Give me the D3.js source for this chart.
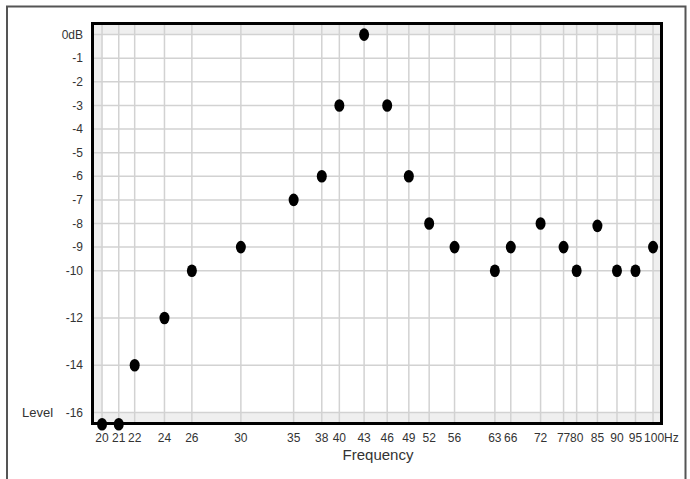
<!DOCTYPE html>
<html>
<head>
<meta charset="utf-8">
<script src="https://cdn.jsdelivr.net/npm/d3@7"></script>
<style>
  body { margin: 0; background: #fff; }
  text { font-family: "Liberation Sans", Arial, sans-serif; fill: #333; }
</style>
</head>
<body>
<div id="chart"></div>
<script>
//frequencies (Hz) and levels (dB)
var freqs  = [20, 21, 22, 24, 26, 30, 35, 38, 40, 43, 46, 49, 52, 56, 63, 66, 72, 77, 80, 85, 90, 95, 100];
var levels = [-16.5, -16.5, -14, -12, -10, -9, -7, -6, -3, 0, -3, -6, -8, -9, -10, -9, -8, -9, -10, -8.1, -10, -10, -9];

//tick labels
var xTickLabels = ["20","21","22","24","26","30","35","38","40","43","46","49","52","56","63","66","72","77","80","85","90","95","100Hz"];
var yTicks = [0, -1, -2, -3, -4, -5, -6, -7, -8, -9, -10, -12, -14, -16];
var yTickLabels = ["0dB","-1","-2","-3","-4","-5","-6","-7","-8","-9","-10","-12","-14","-16"];

var W = 690, H = 479;
var box = {left: 92.5, right: 661.5, top: 23.5, bottom: 423.5};

var svg = d3.select("#chart").append("svg")
  .attr("width", W)
  .attr("height", H);

//outer frame (no bottom edge visible)
svg.append("path")
  .attr("d", "M7,479 L7,6.5 L685.5,6.5 L685.5,479")
  .attr("fill", "none")
  .attr("stroke", "#555")
  .attr("stroke-width", 2);

var x = d3.scaleLog()
  .domain([19.45, 102.5])
  .range([box.left, box.right]);

var y = d3.scaleLinear()
  .domain([0.47, -16.47])
  .range([box.top, box.bottom]);

//grey band round the plot, white inside
svg.append("rect")
  .attr("x", box.left).attr("y", box.top)
  .attr("width", box.right - box.left).attr("height", box.bottom - box.top)
  .attr("fill", "#efefef");

svg.append("rect")
  .attr("x", x(20)).attr("y", y(0))
  .attr("width", x(100) - x(20)).attr("height", y(-16) - y(0))
  .attr("fill", "#fff");

//grid
svg.append("g").selectAll("line")
  .data(freqs)
  .join("line")
  .attr("x1", function(d){ return x(d); })
  .attr("x2", function(d){ return x(d); })
  .attr("y1", box.top)
  .attr("y2", box.bottom)
  .attr("stroke", "#d2d2d2")
  .attr("stroke-width", 1.5);

svg.append("g").selectAll("line")
  .data(yTicks)
  .join("line")
  .attr("x1", box.left)
  .attr("x2", box.right)
  .attr("y1", function(d){ return y(d); })
  .attr("y2", function(d){ return y(d); })
  .attr("stroke", "#d2d2d2")
  .attr("stroke-width", 1.5);

//y labels
svg.append("g").selectAll("text")
  .data(yTicks)
  .join("text")
  .attr("x", 83)
  .attr("y", function(d){ return y(d); })
  .attr("dy", "0.35em")
  .attr("text-anchor", "end")
  .attr("font-size", 12)
  .text(function(d, i){ return yTickLabels[i]; });

svg.append("text")
  .attr("x", 22)
  .attr("y", y(-16))
  .attr("dy", "0.35em")
  .attr("font-size", 13)
  .text("Level");

//x labels ("Hz" hangs off the last one)
svg.append("g").selectAll("text")
  .data(freqs)
  .join("text")
  .attr("x", function(d, i){ return i == freqs.length - 1 ? x(d) - 9 : x(d); })
  .attr("y", 442)
  .attr("text-anchor", function(d, i){ return i == freqs.length - 1 ? "start" : "middle"; })
  .attr("font-size", 12)
  .text(function(d, i){ return xTickLabels[i]; });

svg.append("text")
  .attr("x", 378)
  .attr("y", 460)
  .attr("text-anchor", "middle")
  .attr("font-size", 15)
  .text("Frequency");

//plot border
svg.append("rect")
  .attr("x", box.left).attr("y", box.top)
  .attr("width", box.right - box.left).attr("height", box.bottom - box.top)
  .attr("fill", "none")
  .attr("stroke", "#000")
  .attr("stroke-width", 3);

//points
svg.append("g").selectAll("ellipse")
  .data(freqs)
  .join("ellipse")
  .attr("cx", function(d){ return x(d); })
  .attr("cy", function(d, i){ return y(levels[i]); })
  .attr("rx", 5)
  .attr("ry", 6.3)
  .attr("fill", "#000");
</script>
</body>
</html>
